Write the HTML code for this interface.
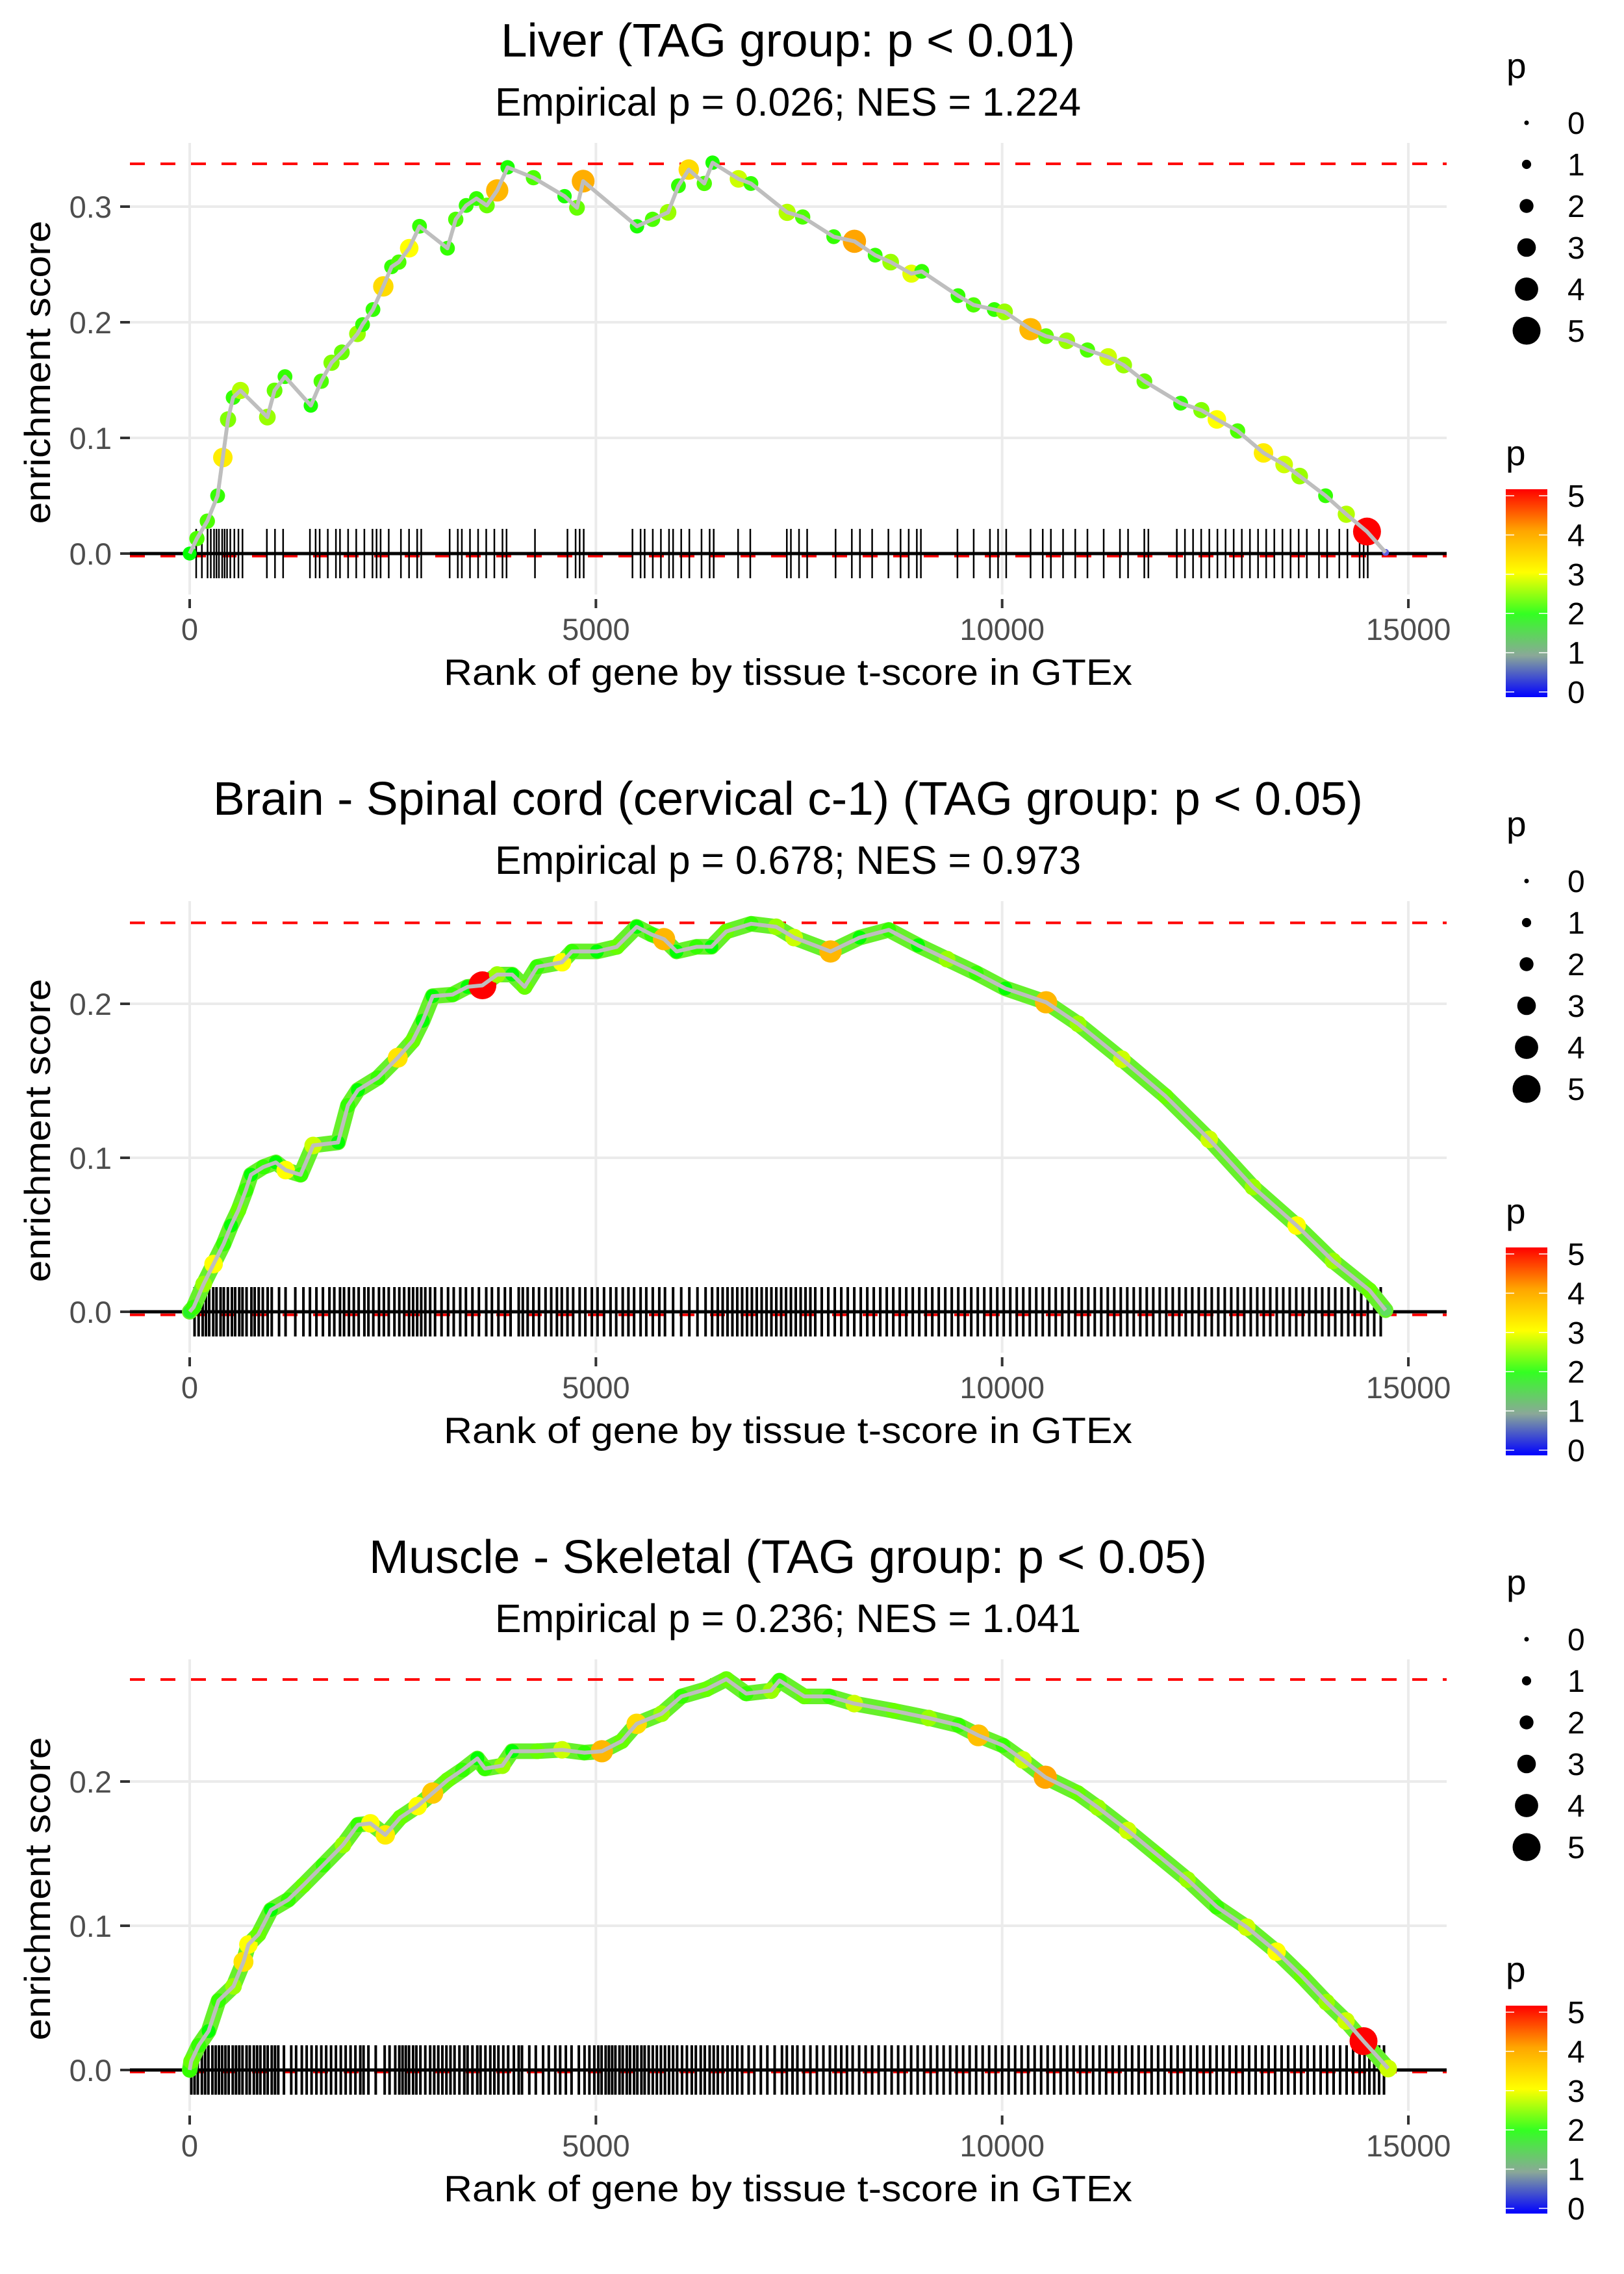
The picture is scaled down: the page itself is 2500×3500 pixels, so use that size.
<!DOCTYPE html>
<html><head><meta charset="utf-8"><title>Enrichment plots</title>
<style>
html,body{margin:0;padding:0;background:#fff;}
svg{display:block;font-family:"Liberation Sans",Arial,sans-serif;}
</style></head>
<body>
<svg id="chart" xmlns="http://www.w3.org/2000/svg" width="2500" height="3500" viewBox="0 0 2500 3500">
<defs>
<linearGradient id="pgrad" x1="0" y1="0" x2="0" y2="1">
<stop offset="0" stop-color="#ff0000"/><stop offset="0.2" stop-color="#ffa500"/><stop offset="0.4" stop-color="#ffff00"/><stop offset="0.6" stop-color="#33ff22"/><stop offset="0.8" stop-color="#8aa898"/><stop offset="1" stop-color="#0000ff"/>
</linearGradient>
</defs>
<rect width="2500" height="3500" fill="#fff"/>
</svg>
<script>
// ---------- data ----------
const xTicks=[0,5000,10000,15000];
const xTickLabels=["0","5000","10000","15000"];
const yTicks1=[0,0.1,0.2,0.3];
const yTicks2=[0,0.1,0.2];
const yTicks3=[0,0.1,0.2];
const titles=["Liver (TAG group: p < 0.01)","Brain - Spinal cord (cervical c-1) (TAG group: p < 0.05)","Muscle - Skeletal (TAG group: p < 0.05)"];
const subtitles=["Empirical p = 0.026; NES = 1.224","Empirical p = 0.678; NES = 0.973","Empirical p = 0.236; NES = 1.041"];
const maxES=[0.337,0.2526,0.2707];
const minES=[-0.0022,-0.002,-0.0014];
const legendValues=[0,1,2,3,4,5];

const rank1=[0,89,217,344,408,472,535,625,956,1045,1173,1491,1619,1746,1873,2065,2128,2256,2383,2485,2574,2702,2829,3173,3275,3403,3530,3658,3785,3913,4231,4614,4767,4843,5506,5697,5888,6016,6143,6334,6436,6755,6908,7354,7545,7927,8182,8437,8628,8883,9011,9457,9648,9903,10030,10349,10540,10795,11050,11305,11496,11751,12197,12452,12643,12898,13217,13471,13662,13981,14236,14491,14720];
const es1=[0,.013,.028,.050,.083,.116,.135,.141,.118,.141,.153,.128,.149,.165,.174,.190,.198,.211,.231,.248,.252,.264,.283,.264,.289,.301,.307,.301,.314,.334,.325,.309,.299,.322,.283,.289,.295,.318,.332,.320,.338,.324,.320,.295,.291,.274,.270,.258,.252,.242,.244,.223,.215,.211,.209,.194,.188,.184,.176,.170,.163,.149,.130,.124,.116,.106,.087,.077,.067,.050,.034,.019,.001];
const p1=[2.0,2.3,2.3,2.2,3.2,2.5,2.2,2.7,2.6,2.4,2.2,2.1,2.3,2.5,2.4,2.6,2.2,2.2,3.4,2.2,2.3,3.0,2.2,2.2,2.3,2.2,2.2,2.4,3.8,2.1,2.3,2.1,2.4,3.9,2.1,2.3,2.6,2.2,3.4,2.3,2.1,2.8,2.2,2.7,2.3,2.2,4.0,2.2,2.6,2.9,2.2,2.2,2.3,2.2,2.6,3.8,2.4,2.6,2.3,2.8,2.6,2.4,2.2,2.5,3.0,2.3,3.2,2.8,2.6,2.2,2.7,5.0,0.5];
const rug1=[80,150,220,260,300,330,360,400,430,460,500,550,600,650,950,1050,1150,1480,1550,1600,1700,1800,1850,1950,2050,2150,2250,2300,2350,2450,2600,2700,2800,2850,3200,3300,3350,3450,3550,3650,3750,3850,3900,4250,4650,4750,4800,4850,5450,5550,5600,5700,5800,5900,5950,6050,6150,6300,6400,6450,6750,6900,7350,7400,7500,7600,7950,8150,8250,8400,8600,8750,8850,8950,9000,9450,9650,9850,9950,10050,10350,10500,10600,10750,10900,11050,11250,11450,11550,11750,11800,12150,12250,12350,12450,12550,12650,12750,12850,12950,13050,13150,13250,13350,13450,13550,13650,13750,13900,14000,14150,14250,14400,14450,14500];

const rank2=[0,49,172,294,417,509,600,692,754,907,1060,1182,1366,1520,1826,1948,2071,2316,2561,2745,2868,2990,3235,3419,3603,3786,3970,4123,4277,4583,4706,5012,5257,5502,5686,5839,5992,6237,6421,6605,6911,7218,7440,7888,8246,8605,8964,9322,9681,10039,10541,10935,11473,12011,12549,13087,13625,14073,14521,14720];
const es2=[0,.003,.018,.031,.044,.056,.066,.079,.089,.094,.097,.092,.089,.108,.110,.134,.144,.152,.165,.176,.189,.205,.206,.211,.212,.219,.219,.211,.224,.227,.234,.234,.237,.250,.245,.242,.234,.237,.237,.247,.252,.250,.243,.234,.243,.248,.238,.229,.220,.210,.201,.187,.164,.140,.112,.081,.056,.033,.014,.001];
const p2=[1.8,2.2,2.6,3.0,2.2,2.0,2.4,2.2,2.0,2.2,2.0,3.0,2.2,2.8,2.0,2.2,2.0,2.2,3.3,2.4,2.0,2.0,2.2,2.0,5.0,2.6,2.0,2.4,2.2,3.0,2.2,2.0,2.4,2.0,2.2,3.8,2.0,2.2,2.0,2.4,2.2,2.6,2.8,3.8,2.0,2.2,2.0,2.6,2.2,2.0,3.8,2.6,2.8,2.4,2.8,2.6,3.0,2.6,2.4,1.5];
const rug2=[60,110,160,200,240,290,330,380,420,470,520,560,610,650,700,760,800,850,900,960,1010,1100,1180,1300,1400,1480,1560,1640,1720,1780,1850,1900,1960,2020,2080,2150,2200,2260,2330,2390,2450,2520,2580,2640,2700,2750,2800,2850,2900,2960,3020,3100,3180,3250,3330,3400,3480,3560,3650,3720,3800,3880,3950,4050,4100,4160,4230,4300,4380,4450,4520,4580,4650,4720,4800,4870,4950,5020,5100,5180,5250,5330,5400,5470,5550,5620,5700,5780,5850,5950,6050,6150,6250,6350,6430,6500,6560,6620,6680,6740,6800,6860,6920,6980,7040,7100,7160,7220,7280,7340,7400,7460,7520,7580,7640,7700,7780,7860,7940,8020,8100,8180,8260,8340,8420,8500,8580,8660,8740,8820,8900,8980,9060,9140,9220,9300,9380,9460,9540,9620,9700,9780,9860,9940,10020,10100,10180,10260,10340,10420,10500,10580,10660,10740,10820,10900,10980,11060,11140,11220,11300,11380,11460,11540,11620,11700,11780,11860,11940,12020,12100,12180,12260,12340,12420,12500,12580,12660,12740,12820,12900,12980,13060,13140,13220,13300,13380,13460,13540,13620,13700,13780,13860,13940,14020,14100,14180,14260,14340,14420,14500,14580,14660];

const rank3=[0,18,110,233,355,539,662,723,846,1000,1213,1397,1642,1887,2071,2224,2408,2592,2806,2990,3174,3358,3541,3633,3848,3970,4277,4583,4859,5073,5318,5502,5808,6053,6360,6605,6850,7156,7260,7565,7873,8180,8667,9098,9462,9707,10010,10256,10531,10930,11178,11546,11913,12281,12643,13010,13378,13689,13993,14232,14448,14752];
const es3=[0,.006,.017,.027,.048,.058,.075,.087,.094,.111,.118,.128,.142,.156,.170,.171,.163,.175,.183,.192,.201,.208,.216,.209,.211,.221,.221,.222,.220,.221,.228,.240,.247,.259,.264,.271,.261,.263,.270,.259,.259,.254,.249,.244,.239,.232,.225,.215,.203,.192,.182,.166,.149,.132,.113,.099,.082,.065,.047,.034,.020,.001];
const p3=[2.2,2.4,2.2,2.0,2.2,2.6,3.3,3.0,2.4,2.0,2.2,2.4,2.2,2.6,2.2,3.0,3.2,2.4,3.0,3.6,2.4,2.2,2.0,2.2,2.6,2.0,2.4,2.8,2.2,3.8,2.4,3.4,2.6,2.2,2.4,2.4,2.2,2.6,2.2,2.4,2.2,2.8,2.4,2.6,2.2,3.7,2.2,2.8,4.0,2.4,2.6,2.8,2.4,2.6,2.2,2.8,3.0,2.4,2.6,2.8,5.0,2.8];
const rug3=[20,60,100,150,190,230,280,320,360,400,440,480,530,570,610,650,700,740,790,830,870,920,960,1010,1050,1090,1160,1250,1310,1380,1440,1500,1560,1620,1680,1740,1800,1860,1920,1980,2040,2100,2140,2200,2290,2400,2460,2530,2580,2620,2660,2700,2750,2790,2840,2900,2960,3010,3060,3110,3160,3210,3260,3320,3380,3420,3480,3540,3580,3640,3700,3750,3800,3860,3920,3990,4050,4090,4180,4260,4350,4420,4500,4560,4630,4700,4790,4860,4920,4980,5030,5070,5120,5160,5200,5240,5290,5330,5380,5420,5470,5510,5560,5600,5650,5700,5750,5800,5850,5900,5950,6000,6060,6120,6180,6230,6290,6340,6400,6450,6500,6560,6620,6680,6740,6800,6880,6950,7030,7110,7200,7290,7350,7420,7480,7560,7640,7720,7800,7880,7950,8020,8090,8160,8240,8320,8400,8480,8560,8640,8720,8800,8880,8960,9040,9120,9200,9280,9360,9440,9520,9600,9680,9760,9840,9920,10000,10080,10160,10240,10320,10400,10480,10560,10640,10720,10800,10880,10960,11040,11120,11200,11280,11360,11440,11520,11600,11680,11760,11840,11920,12000,12080,12160,12240,12320,12400,12480,12560,12640,12720,12800,12880,12960,13040,13120,13200,13280,13360,13440,13520,13600,13680,13760,13840,13920,14000,14080,14160,14240,14320,14400,14460,14520,14580,14640,14700];

// ---------- layout ----------
const NS="http://www.w3.org/2000/svg";
const svg=document.getElementById('chart');
const PL=200, PR=2227, X0=292, XS=0.12507;
const panelTop=[220,1387,2554];
const panelZero=[852,2019,3186];
const panelScale=[1780,2370,2220];
const panelH=695, SPACING=1167;
function sx(r){return X0+r*XS;}
function mk(tag,attrs,parent){const e=document.createElementNS(NS,tag);for(const k in attrs)e.setAttribute(k,attrs[k]);(parent||svg).appendChild(e);return e;}
const cstops=[[0,[0,0,255]],[1,[190,190,190]],[2,[0,255,0]],[3,[255,255,0]],[4,[255,165,0]],[5,[255,0,0]]];
function pcol(p){p=Math.max(0,Math.min(5,p));for(let i=0;i<5;i++){if(p<=cstops[i+1][0]){const t=(p-cstops[i][0]);const a=cstops[i][1],b=cstops[i+1][1];return 'rgb('+a.map((v,j)=>Math.round(v+(b[j]-v)*t)).join(',')+')';}}return 'rgb(255,0,0)';}
function prad(p){return 3.5+3.6*p;}

const ranksAll=[rank1,rank2,rank3], esAll=[es1,es2,es3], pAll=[p1,p2,p3], rugAll=[rug1,rug2,rug3], yTicksAll=[yTicks1,yTicks2,yTicks3];

for(let k=0;k<3;k++){
  const top=panelTop[k], bot=top+panelH, y0=panelZero[k], sc=panelScale[k];
  const sy=v=>y0-v*sc;
  const g=mk('g',{});
  
  
  const t=mk('text',{x:1213,y:62+k*SPACING+25,'text-anchor':'middle','font-size':72,fill:'#000',textLength:[884,1770,1290][k],lengthAdjust:'spacingAndGlyphs'},g);
  t.textContent=titles[k];
  
  
  const st=mk('text',{x:1213,y:156+k*SPACING+22,'text-anchor':'middle','font-size':61,fill:'#000',textLength:902,lengthAdjust:'spacingAndGlyphs'},g);
  st.textContent=subtitles[k];
  
  
  yTicksAll[k].forEach(v=>{
    const l=mk('line',{x1:PL,x2:PR,y1:sy(v),y2:sy(v),stroke:'#ebebeb','stroke-width':4},g);
    
    
  });
  xTicks.forEach(v=>{
    const l=mk('line',{x1:sx(v),x2:sx(v),y1:top,y2:bot,stroke:'#ebebeb','stroke-width':4},g);
    
    
  });
  [maxES[k],minES[k]].forEach((v,i)=>{
    const l=mk('line',{x1:PL,x2:PR,y1:sy(v),y2:sy(v),stroke:'#ff0000','stroke-width':4,'stroke-dasharray':'23 24'},g);
    
    
  });
  const rg=mk('g',{},g);
  
  
  rugAll[k].forEach(r=>{
    const l=mk('line',{x1:sx(r),x2:sx(r),y1:y0-38,y2:y0+38,stroke:'#000','stroke-width':k===0?2.5:4},rg);
    
    
  });
  const z=mk('line',{x1:PL,x2:PR,y1:y0,y2:y0,stroke:'#000','stroke-width':5},g);
  
  
  const R=ranksAll[k],E=esAll[k],P=pAll[k];
  const pts=R.map((r,i)=>sx(r).toFixed(1)+','+sy(E[i]).toFixed(1)).join(' ');
  if(k>0){
    const band=mk('polyline',{points:pts,fill:'none',stroke:'#66f02a','stroke-width':24,'stroke-linejoin':'round','stroke-linecap':'round'},g);
    
    
  }
  R.forEach((r,i)=>{
    const c=mk('circle',{cx:sx(r),cy:sy(E[i]),r:prad(P[i]),fill:pcol(P[i])},g);
    
    
  });
  const line=mk('polyline',{points:pts,fill:'none',stroke:'#bebebe','stroke-width':6,'stroke-linejoin':'round'},g);
  
  
  yTicksAll[k].forEach(v=>{
    const tk=mk('line',{x1:185,x2:200,y1:sy(v),y2:sy(v),stroke:'#333','stroke-width':4},g);
    
    
    const lb=mk('text',{x:172,y:sy(v)+17,'text-anchor':'end','font-size':47,fill:'#4d4d4d'},g);
    lb.textContent=v.toFixed(1);
    
    
  });
  xTicks.forEach((v,i)=>{
    const tk=mk('line',{x1:sx(v),x2:sx(v),y1:bot+7,y2:bot+21,stroke:'#333','stroke-width':4},g);
    
    
    const lb=mk('text',{x:sx(v),y:bot+70,'text-anchor':'middle','font-size':47,fill:'#4d4d4d'},g);
    lb.textContent=xTickLabels[i];
    
    
  });
  const xt=mk('text',{x:1213,y:1054+k*SPACING,'text-anchor':'middle','font-size':57,fill:'#000',textLength:1060,lengthAdjust:'spacingAndGlyphs'},g);
  xt.textContent='Rank of gene by tissue t-score in GTEx';
  
  
  const yt=mk('text',{x:0,y:0,'text-anchor':'middle','font-size':56,fill:'#000',textLength:467,lengthAdjust:'spacingAndGlyphs',transform:'translate(77,'+(573+k*SPACING)+') rotate(-90)'},g);
  yt.textContent='enrichment score';
  
  
  const off=k*SPACING;
  const sl=mk('g',{},g);
  
  
  const slt=mk('text',{x:2319,y:120+off,'font-size':55,fill:'#000'},sl);
  slt.textContent='p';
  
  
  legendValues.forEach((v,i)=>{
    const cy=189+64*i+off;
    const d=mk('circle',{cx:2350,cy:cy,r:prad(v),fill:'#000'},sl);
    
    
    const lb=mk('text',{x:2413,y:cy+17,'font-size':48,fill:'#000'},sl);
    lb.textContent=String(v);
    
    
  });
  const cl=mk('g',{},g);
  
  
  const clt=mk('text',{x:2318,y:716+off,'font-size':55,fill:'#000'},cl);
  clt.textContent='p';
  
  
  const bar=mk('rect',{x:2318,y:753+off,width:64,height:320,fill:'url(#pgrad)'},cl);
  
  
  legendValues.forEach(v=>{
    const yy=1065-v*60.4+off;
    const a=mk('line',{x1:2318,x2:2331,y1:yy,y2:yy,stroke:'#fff','stroke-width':1.5},cl);
    
    
    const b=mk('line',{x1:2369,x2:2382,y1:yy,y2:yy,stroke:'#fff','stroke-width':1.5},cl);
    
    
    const lb=mk('text',{x:2413,y:yy+17,'font-size':48,fill:'#000'},cl);
    lb.textContent=String(v);
    
    
  });
}
</script>
</body></html>
